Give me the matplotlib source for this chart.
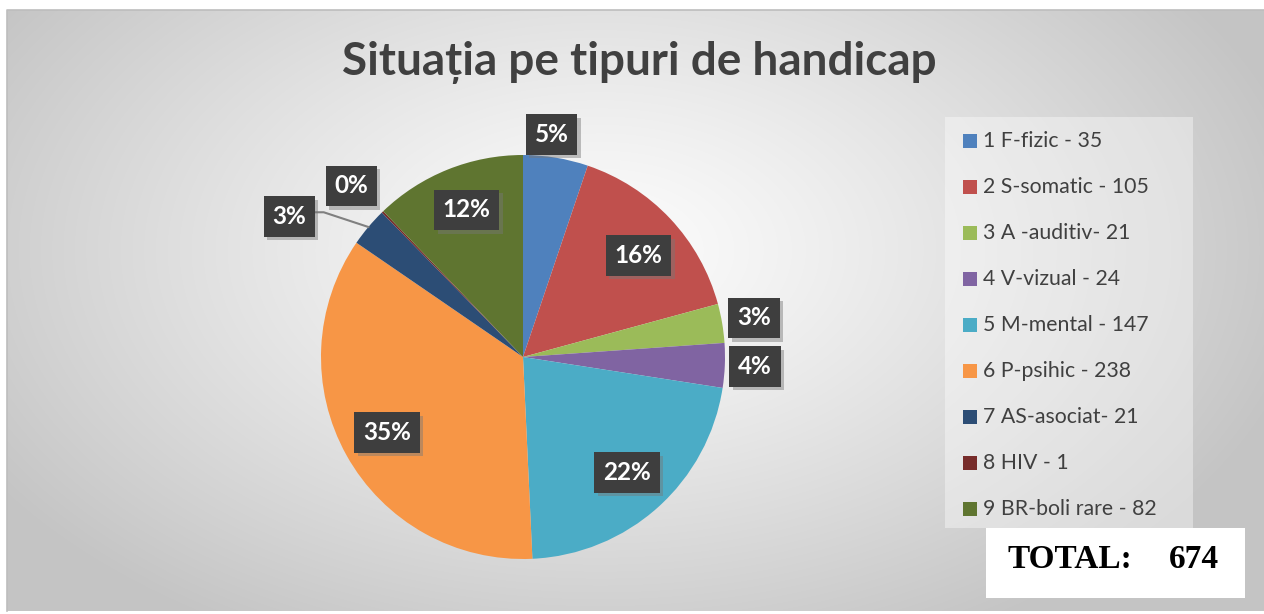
import numpy as np
import matplotlib
matplotlib.use("Agg")
import matplotlib.pyplot as plt
from matplotlib.patches import Rectangle
from matplotlib.lines import Line2D
import matplotlib.patheffects as pe

# ---- data ----
categories = ["1 F-fizic", "2 S-somatic", "3 A -auditiv-", "4 V-vizual", "5 M-mental",
              "6 P-psihic", "7 AS-asociat-", "8 HIV", "9 BR-boli rare"]
legend_labels = ["1 F-fizic - 35", "2 S-somatic - 105", "3 A -auditiv- 21", "4 V-vizual - 24",
                 "5 M-mental - 147", "6 P-psihic - 238", "7 AS-asociat- 21", "8 HIV - 1",
                 "9 BR-boli rare - 82"]
values = [35, 105, 21, 24, 147, 238, 21, 1, 82]
colors = ["#4F81BD", "#C0504D", "#9BBB59", "#8064A2", "#4BACC6",
          "#F79646", "#2C4D75", "#772C2A", "#5F7530"]
title = "Situația pe tipuri de handicap"
total_label = "TOTAL:"
total_value = 674

# label placement style (radial factor, angle tweak in degrees)
label_dist = [1.11, 0.76, 1.16, 1.15, 0.77, 0.77, 1.35, 1.20, 0.78]
label_dang = [2, -2, 0, 0, 0, 0, 9, 1, -1]

W, H = 1264, 614
fig = plt.figure(figsize=(W / 100, H / 100), dpi=100)
fig.patch.set_facecolor("white")

def fx(x):
    return x / W

def fy(y):
    return 1 - y / H

# ---- background gradient ----
bg = fig.add_axes([fx(7), fy(611), fx(1264) - fx(7), fy(10) - fy(611)], zorder=0)
yy, xx = np.mgrid[10:611, 7:1264]
d = np.sqrt(((xx - 600) / 720.0) ** 2 + ((yy - 250) / 440.0) ** 2)
d = np.clip(d, 0, 1) ** 1.2
c0, c1 = 0.99, 0.77
img = c0 + (c1 - c0) * d
bg.imshow(np.dstack([img, img, img]), aspect="auto", extent=[0, 1, 0, 1], origin="upper")
bg.set_xlim(0, 1)
bg.set_ylim(0, 1)
bg.axis("off")
fig.add_artist(Line2D([fx(7), fx(7), fx(1264)], [fy(611), fy(10), fy(10)],
                      transform=fig.transFigure, color="#bdbdbd", lw=1.2, zorder=1))

# ---- title ----
fig.text(fx(639), fy(63), title, ha="center", va="center", fontsize=33,
         fontweight="bold", color="#404040", family=["Lato", "DejaVu Sans"], zorder=5)

# ---- pie ----
cx, cy, R = 523, 357, 202
span = 606
ax = fig.add_axes([fx(cx - span / 2), fy(cy + span / 2), span / W, span / H], zorder=3)
ax.patch.set_alpha(0)
wedges, _ = ax.pie(values, colors=colors, startangle=90, counterclock=False,
                   radius=1.0, wedgeprops=dict(linewidth=0))
ax.set_xlim(-1.5, 1.5)
ax.set_ylim(-1.5, 1.5)
ax.axis("off")

total = sum(values)
for i, (w, v) in enumerate(zip(wedges, values)):
    mid = (w.theta1 + w.theta2) / 2
    ang = np.deg2rad(mid + label_dang[i])
    r = label_dist[i]
    x, y = r * np.cos(ang), r * np.sin(ang)
    pct = "%.0f%%" % (100.0 * v / total)
    if i == 6:
        ex, ey = np.cos(np.deg2rad(mid)), np.sin(np.deg2rad(mid))
        ax.add_line(Line2D([ex, x + 0.17, x + 0.1], [ey, y + 0.02, y + 0.02],
                           color="#808080", lw=1.5, zorder=4, clip_on=False))
    t = ax.text(x, y, pct, ha="center", va="center", fontsize=17.5, fontweight="bold",
                color="white", family=["Lato", "DejaVu Sans"],
                bbox=dict(boxstyle="square,pad=0.36", fc="#3e3e3e", ec="none"),
                zorder=6, clip_on=False)
    t.get_bbox_patch().set_path_effects(
        [pe.SimplePatchShadow(offset=(2.5, -2.5), shadow_rgbFace="#777777", alpha=0.45),
         pe.Normal()])

# ---- legend ----
fig.add_artist(Rectangle((fx(945), fy(528)), fx(1193) - fx(945), fy(117) - fy(528),
                         transform=fig.transFigure, facecolor="white", alpha=0.38,
                         edgecolor="none", zorder=2))
for i, (lab, col) in enumerate(zip(legend_labels, colors)):
    yc = 141 + 46 * i
    fig.add_artist(Rectangle((fx(963), fy(yc + 7)), 14 / W, 14 / H,
                             transform=fig.transFigure, facecolor=col,
                             edgecolor="none", zorder=4))
    fig.text(fx(983), fy(yc), lab, ha="left", va="center", fontsize=15.3,
             color="#404040", family=["Lato", "DejaVu Sans"], zorder=4)

# ---- total box ----
fig.add_artist(Rectangle((fx(986), fy(598)), fx(1245) - fx(986), fy(528) - fy(598),
                         transform=fig.transFigure, facecolor="white",
                         edgecolor="none", zorder=4))
fig.text(fx(1008), fy(560), total_label, ha="left", va="center", fontsize=24,
         fontweight="bold", color="black", family=["Liberation Serif", "DejaVu Serif"], zorder=5)
fig.text(fx(1219), fy(560), str(total_value), ha="right", va="center", fontsize=24,
         fontweight="bold", color="black", family=["Liberation Serif", "DejaVu Serif"], zorder=5)

fig.savefig("out.png", dpi=100, facecolor="white")
